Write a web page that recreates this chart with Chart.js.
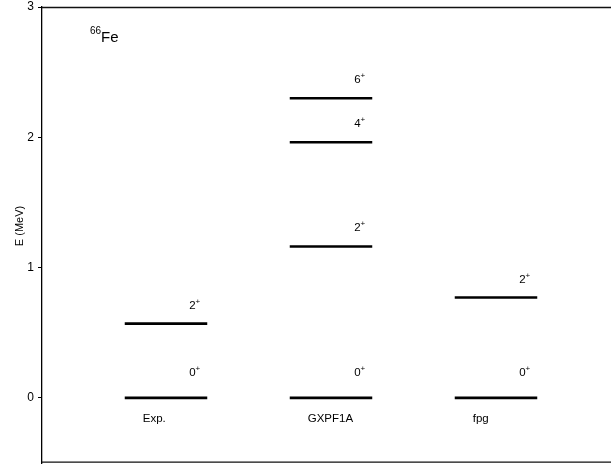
<!DOCTYPE html>
<html>
<head>
<meta charset="utf-8">
<script src="https://cdn.jsdelivr.net/npm/chart.js@4.4.0/dist/chart.umd.min.js"></script>
<style>
html,body{margin:0;padding:0;background:#fff;}
#wrap{width:611px;height:464px;position:relative;}
</style>
</head>
<body>
<div id="wrap"><canvas id="c" width="611" height="464"></canvas></div>
<script>
const categories = ['Exp.', 'GXPF1A', 'fpg'];
const levelEnergies = [[0, 0.570], [0, 1.162, 1.962, 2.300], [0, 0.770]];
const levelSpins = [['0', '2'], ['0', '2', '4', '6'], ['0', '2']];
const yTicks = [0, 1, 2, 3];
const nucleusMass = '66';
const nucleusName = 'Fe';
const yTitle = 'E (MeV)';

const FONT = '"Liberation Sans", Arial, sans-serif';
const HALF = 0.25;

const datasets = [];
categories.forEach((cat, i) => {
  levelEnergies[i].forEach((e, j) => {
    datasets.push({
      label: cat + ' ' + levelSpins[i][j] + '+',
      data: [{x: i - HALF, y: e}, {x: i + HALF, y: e}],
      showLine: true,
      borderColor: '#000',
      borderWidth: 2.6,
      pointRadius: 0,
      pointHoverRadius: 0,
      borderCapStyle: 'butt'
    });
  });
});

const labelPlugin = {
  id: 'levelLabels',
  afterDraw(chart) {
    const ctx = chart.ctx;
    const xs = chart.scales.x, ys = chart.scales.y;
    const ca = chart.chartArea;
    ctx.save();
    ctx.strokeStyle = '#111';
    ctx.lineWidth = 1.3;
    ctx.beginPath();
    ctx.moveTo(ca.left, ca.top + 0.5); ctx.lineTo(ca.right, ca.top + 0.5);
    ctx.moveTo(ca.left, ca.bottom - 0.8); ctx.lineTo(ca.right, ca.bottom - 0.8);
    ctx.stroke();
    ctx.fillStyle = '#000';
    ctx.textBaseline = 'alphabetic';
    categories.forEach((cat, i) => {
      levelEnergies[i].forEach((e, j) => {
        const xr = xs.getPixelForValue(i + HALF) - 7;
        const yp = ys.getPixelForValue(e) - (e === 0 ? 22 : 15);
        ctx.font = '8px ' + FONT;
        ctx.textAlign = 'right';
        const pw = ctx.measureText('+').width;
        ctx.fillText('+', xr, yp - 5);
        ctx.font = '11.5px ' + FONT;
        ctx.fillText(levelSpins[i][j], xr - pw, yp);
      });
      ctx.font = '11.5px ' + FONT;
      ctx.textAlign = 'left';
      ctx.textBaseline = 'middle';
      ctx.fillText(cat, xs.getPixelForValue(i - HALF) + 18, ys.getPixelForValue(0) + 21);
      ctx.textBaseline = 'alphabetic';
    });
    ctx.textAlign = 'left';
    ctx.font = '10px ' + FONT;
    const mx = ca.left + 48;
    ctx.fillText(nucleusMass, mx, ca.top + 27);
    const mw = ctx.measureText(nucleusMass).width;
    ctx.font = '15px ' + FONT;
    ctx.fillText(nucleusName, mx + mw, ca.top + 35);
    ctx.font = '11px ' + FONT;
    ctx.translate(20, 226);
    ctx.rotate(-Math.PI / 2);
    ctx.textAlign = 'center';
    ctx.textBaseline = 'middle';
    ctx.fillText(yTitle, 0, 0);
    ctx.restore();
  }
};

new Chart(document.getElementById('c'), {
  type: 'scatter',
  data: { datasets },
  options: {
    responsive: false,
    animation: false,
    events: [],
    layout: { padding: { top: 7, right: 0, bottom: 1, left: 0 } },
    plugins: { legend: { display: false }, tooltip: { enabled: false } },
    scales: {
      x: { type: 'linear', min: -0.7515, max: 2.697, display: false },
      y: {
        type: 'linear', min: -0.5, max: 3,
        afterBuildTicks(scale) { scale.ticks = yTicks.map(v => ({ value: v })); },
        afterFit(scale) { scale.width = 42; scale.paddingTop = 0; scale.paddingBottom = 0; },
        ticks: { font: { size: 12, family: FONT }, color: '#000', padding: 4,
                 callback: v => String(v) },
        grid: { drawOnChartArea: false, tickLength: 4, color: '#000', lineWidth: 1 },
        border: { display: true, color: '#000', width: 1.3 }
      }
    }
  },
  plugins: [labelPlugin]
});
</script>
</body>
</html>
